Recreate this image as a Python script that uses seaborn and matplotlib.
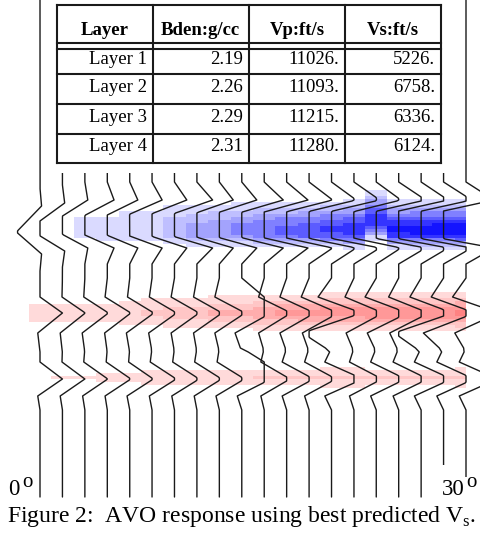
import numpy as np
import pandas as pd
import matplotlib
matplotlib.use("Agg")
import matplotlib.pyplot as plt
import seaborn as sns
from matplotlib.colors import ListedColormap, BoundaryNorm
from matplotlib.patches import Rectangle

sns.set_theme(style="white")
plt.rcParams["font.family"] = ["Liberation Serif", "DejaVu Serif"]
plt.rcParams["mathtext.fontset"] = "custom"
plt.rcParams["mathtext.rm"] = "Liberation Serif"

# ---------------- data ----------------
HEADER = ["Layer", "Bden:g/cc", "Vp:ft/s", "Vs:ft/s"]
LAYERS = ["Layer 1", "Layer 2", "Layer 3", "Layer 4"]
BDEN = ["2.19", "2.26", "2.29", "2.31"]
VP = ["11026.", "11093.", "11215.", "11280."]
VS = ["5226.", "6758.", "6336.", "6124."]

ANGLES = [0.0, 1.58, 3.16, 4.74, 6.32, 7.89, 9.47, 11.05, 12.63, 14.21,
          15.79, 17.37, 18.95, 20.53, 22.11, 23.68, 25.26, 26.84, 28.42, 30.0]

# wiggle events (time in plot rows, top = 0)
E1_T = [182, 200, 226, 248, 264]
E1_MAIN = [1.05, 1.5, 1.7, 1.9, 2.0, 2.2, 2.4, 2.6, 2.7, 2.9,
           3.1, 3.3, 3.5, 3.7, 3.8, 3.6, 3.9, 4.0, 4.0, 4.1]
E1_SIDE = [0.07, 0.1, 0.13, 0.3, 0.36, 0.45, 0.55, 0.7, 0.62, 0.67,
           0.85, 0.95, 1.05, 1.1, 1.15, 1.1, 1.2, 1.2, 1.25, 1.25]
E1_SHIFT = [6, 3, 0, 0, 0, 0, 0, 0, 0, 0, 0, 0, 0, 0, 0, 0, 0, 0, 0, 0]

E2_T = [278, 297, 313, 333, 352]
E2_MAIN = [1.0, 1.02, 1.05, 1.05, 1.08, 1.1, 1.1, 1.12, 1.15, 1.3,
           1.2, 1.25, 1.3, 1.35, 1.3, 1.4, 1.35, 1.4, 1.4, 1.45]
E2_PRE = [0.0, 0.02, 0.05, 0.1, 0.1, 0.12, 0.15, 0.15, 0.2, -1.0,
          0.25, 0.3, 0.35, 0.6, 0.4, 0.5, 0.45, 0.5, 0.55, 0.6]
E2_POST = [0.1, 0.1, 0.12, 0.12, 0.15, 0.15, 0.15, 0.15, 0.2, 0.3,
           0.25, 0.3, 0.3, 1.3, 0.35, 0.4, 0.4, 1.2, 0.9, 0.5]

E3_T = [348, 362, 379, 396, 410]
E3_MAIN = [1.0, 1.0, 1.02, 1.05, 1.05, 1.08, 1.1, 1.1, 1.12, 1.3,
           1.15, 1.2, 1.2, 1.4, 1.25, 1.3, 1.3, 1.35, 1.35, 1.4]
E3_PRE = [0.0, 0.02, 0.05, 0.05, 0.05, 0.08, 0.08, 0.1, 0.1, -1.0,
          0.15, 0.2, 0.2, 0.3, 0.2, 0.25, 0.25, 0.3, 0.3, 0.3]
E3_POST = [0.1, 0.1, 0.1, 0.1, 0.12, 0.12, 0.12, 0.12, 0.15, 0.2,
           0.15, 0.2, 0.2, 0.3, 0.2, 0.25, 0.25, 0.3, 0.3, 0.3]

# variable-density shading (amplitude per trace, band shapes)
BLUE_AMP = [0, 0, 0.2, 0.22, 0.26, 0.3, 0.42, 0.48, 0.52, 0.6,
            0.68, 0.72, 0.78, 0.82, 0.88, 0.9, 0.92, 0.95, 0.97, 0.98]
BLUE_SHIFT = [0, 0, 0, 0, 0, 0, 0, 0, 0, 0, 0, 0, 0, 0, 0, -3, 0, 0, 0, 0]
BLUE_BAND = [0.18, 0.28, 0.38, 0.48, 0.58, 0.68, 0.78, 0.87, 0.94, 1.0,
             1.0, 0.97, 0.88, 0.7, 0.5, 0.32, 0.18]
RED2_AMP = [0.22, 0.22, 0.23, 0.23, 0.25, 0.32, 0.35, 0.38, 0.42, 0.45,
            0.5, 0.55, 0.58, 0.6, 0.6, 0.62, 0.62, 0.65, 0.65, 0.68]
RED2_BAND = [0.15, 0.25, 0.38, 0.5, 0.62, 0.78, 0.92, 1.0, 1.0, 0.9,
             0.75, 0.6, 0.45, 0.32, 0.2, 0.12]
RED3_AMP = [0, 0.16, 0.17, 0.2, 0.22, 0.25, 0.25, 0.27, 0.28, 0.28,
            0.3, 0.3, 0.32, 0.35, 0.35, 0.32, 0.32, 0.33, 0.33, 0.34]
RED3_BAND = [0.15, 0.28, 0.45, 0.65, 0.85, 1.0, 0.85, 0.65, 0.45, 0.28, 0.15]

# ---------------- layout ----------------
W, H = 481, 537
fig = plt.figure(figsize=(W / 100, H / 100), dpi=100)
fig.patch.set_facecolor("white")
ax = fig.add_axes([0, 0, 1, 1])
px_per_deg = (466 - 40) / 30.0
XLIM = (-40 / px_per_deg, 30 + (W - 466) / px_per_deg)

angles = np.array(ANGLES)
spacing = angles[1] - angles[0]
ntr = len(angles)

# shading grid
ROW_H = 3
y_edges = np.arange(190, 401, ROW_H)
nrows = len(y_edges) - 1
field = np.zeros((nrows, ntr))
b0 = (199 - 190) // ROW_H
r20 = (289 - 190) // ROW_H
r30 = (361 - 190) // ROW_H
for k in range(ntr):
    for i, p in enumerate(BLUE_BAND):
        r = b0 + BLUE_SHIFT[k] + i
        if 0 <= r < nrows:
            field[r, k] -= BLUE_AMP[k] * p
    for i, p in enumerate(RED2_BAND):
        field[r20 + i, k] += RED2_AMP[k] * p
    for i, p in enumerate(RED3_BAND):
        field[r30 + i, k] += RED3_AMP[k] * p
field = np.ma.masked_where(np.abs(field) < 0.15, field)
x_edges = np.concatenate([[angles[0] - spacing / 2],
                          (angles[:-1] + angles[1:]) / 2, [angles[-1]]])
bounds = [-5, -0.9, -0.8, -0.68, -0.55, -0.42, -0.3, -0.15,
          0.15, 0.3, 0.42, 0.55, 0.68, 5]
cols = ["#1414ff", "#3434ff", "#5c5cff", "#8080ff", "#a3a3fd", "#bfbfff", "#dadaff",
        "#ffffff",
        "#ffdada", "#ffc6c6", "#ffadad", "#ff9898", "#ff8282"]
ax.pcolormesh(x_edges, y_edges, field, cmap=ListedColormap(cols),
              norm=BoundaryNorm(bounds, len(cols)), shading="flat", zorder=1)

# wiggle traces
t = np.arange(0, 498, 1.0)
rows = []
for k in range(ntr):
    v = np.interp(t, np.array(E1_T) + E1_SHIFT[k],
                  [0, E1_SIDE[k], -E1_MAIN[k], E1_SIDE[k], 0], left=0, right=0)
    v += np.interp(t, E2_T, [0, -E2_PRE[k], E2_MAIN[k], -E2_POST[k], 0], left=0, right=0)
    v += np.interp(t, E3_T, [0, -E3_PRE[k], E3_MAIN[k], -E3_POST[k], 0], left=0, right=0)
    v = np.clip(v, -1, 1)
    rows.append(pd.DataFrame({"x": angles[k] + v * spacing, "t": t, "trace": k}))
df = pd.concat(rows, ignore_index=True)
sns.lineplot(data=df, x="x", y="t", units="trace", estimator=None, sort=False,
             color="#1a1a1a", linewidth=1.0, ax=ax, legend=False, zorder=2)
ax.set_xlim(*XLIM)
ax.set_ylim(H, 0)
ax.axis("off")

# overlay in pixel coordinates: table, labels, caption
ov = fig.add_axes([0, 0, 1, 1])
ov.set_xlim(0, W)
ov.set_ylim(H, 0)
ov.axis("off")
ov.patch.set_alpha(0)

ov.add_patch(Rectangle((48, 0), 410, 172.5, facecolor="white", edgecolor="none", zorder=1))
lw = 1.5
L, R, T, B = 57, 441.5, 5, 163
vsep = [L, 152.7, 248.7, 345, R]
for xv in vsep:
    ov.plot([xv, xv], [T, B], color="#1a1a1a", lw=lw, zorder=3, solid_capstyle="projecting")
for yh in [T, 43, 49, 74, 104, 133.5, B]:
    ov.plot([L, R], [yh, yh], color="#1a1a1a", lw=lw, zorder=3, solid_capstyle="projecting")

for j, h in enumerate(HEADER):
    ov.text((vsep[j] + vsep[j + 1]) / 2, 35, h, ha="center", va="baseline",
            fontsize=13.5, fontweight="bold", color="black", zorder=4)
body_base = [63.5, 92.5, 122, 151]
cols_txt = [LAYERS, BDEN, VP, VS]
for j, colvals in enumerate(cols_txt):
    for i, s in enumerate(colvals):
        ov.text(vsep[j + 1] - 6, body_base[i], s, ha="right", va="baseline",
                fontsize=13.5, color="black", zorder=4)

# angle labels
ov.add_patch(Rectangle((437, 465), 24, 36, facecolor="white", edgecolor="none", zorder=3))
ov.add_patch(Rectangle((461, 477), 20, 24, facecolor="white", edgecolor="none", zorder=3))
ov.text(8, 495, "0", ha="left", va="baseline", fontsize=16.5, color="black", zorder=4)
ov.text(22.5, 487, "o", ha="left", va="baseline", fontsize=15, color="black", zorder=4)
ov.text(442, 495, "30", ha="left", va="baseline", fontsize=16.5, color="black", zorder=4)
ov.text(466.5, 487, "o", ha="left", va="baseline", fontsize=15, color="black", zorder=4)

ov.text(7, 522, r"Figure 2:  AVO response using best predicted V$_{\rm s}$.",
        ha="left", va="baseline", fontsize=17, color="black", zorder=4)

fig.savefig("out.png", dpi=100, facecolor="white")
